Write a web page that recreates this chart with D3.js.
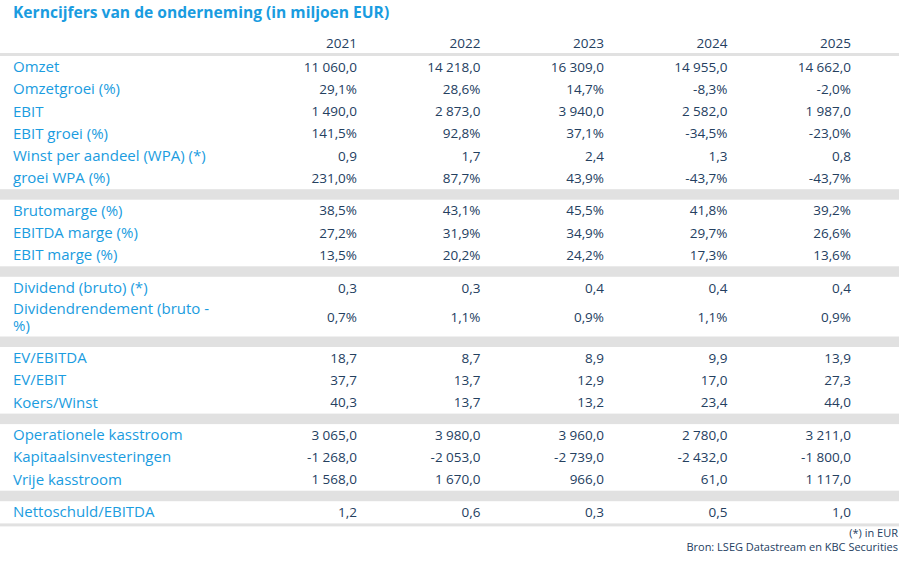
<!DOCTYPE html>
<html><head><meta charset="utf-8">
<script src="https://cdn.jsdelivr.net/npm/d3@7"></script>
<style>
html,body{margin:0;padding:0;background:#fff;}
svg{display:block;font-family:"Open Sans",sans-serif;}
</style></head><body>
<svg id="chart" width="907" height="562"></svg>
<script>
// ---- data ----
const years = ["2021","2022","2023","2024","2025"];
const labels = [
  "Omzet","Omzetgroei (%)","EBIT","EBIT groei (%)","Winst per aandeel (WPA) (*)","groei WPA (%)",
  "Brutomarge (%)","EBITDA marge (%)","EBIT marge (%)",
  "Dividend (bruto) (*)","Dividendrendement (bruto -|%)",
  "EV/EBITDA","EV/EBIT","Koers/Winst",
  "Operationele kasstroom","Kapitaalsinvesteringen","Vrije kasstroom",
  "Nettoschuld/EBITDA"
];
const groups = [0,0,0,0,0,0, 1,1,1, 2,2, 3,3,3, 4,4,4, 5];
const isPercent = [false,true,false,true,false,true, true,true,true, false,true, false,false,false, false,false,false, false];
const v2021 = [11060.0,29.1,1490.0,141.5,0.9,231.0, 38.5,27.2,13.5, 0.3,0.7, 18.7,37.7,40.3, 3065.0,-1268.0,1568.0, 1.2];
const v2022 = [14218.0,28.6,2873.0,92.8,1.7,87.7, 43.1,31.9,20.2, 0.3,1.1, 8.7,13.7,13.7, 3980.0,-2053.0,1670.0, 0.6];
const v2023 = [16309.0,14.7,3940.0,37.1,2.4,43.9, 45.5,34.9,24.2, 0.4,0.9, 8.9,12.9,13.2, 3960.0,-2739.0,966.0, 0.3];
const v2024 = [14955.0,-8.3,2582.0,-34.5,1.3,-43.7, 41.8,29.7,17.3, 0.4,1.1, 9.9,17.0,23.4, 2780.0,-2432.0,61.0, 0.5];
const v2025 = [14662.0,-2.0,1987.0,-23.0,0.8,-43.7, 39.2,26.6,13.6, 0.4,0.9, 13.9,27.3,44.0, 3211.0,-1800.0,1117.0, 1.0];
const title = "Kerncijfers van de onderneming (in miljoen EUR)";
const notes = ["(*) in EUR","Bron: LSEG Datastream en KBC Securities"];

// ---- layout ----
const values = [v2021,v2022,v2023,v2024,v2025];
const svg = d3.select("#chart");
const blue = "#1a9ce0", navy = "#24405f", band = "#e1e1e1";
const locale = d3.formatLocale({decimal:",", thousands:"\u00a0", grouping:[3], currency:["",""]});
const fmt = locale.format(",.1f");

const tableLeft = 0, tableRight = 899, labelX = 13;
const x = d3.scalePoint().domain(years).range([357, 851]);

// row geometry
const rowH = 22.2, bandH = 10.5, doubleH = 37.5;
let yCur = 56;
const rows = [];
const bands = [];
labels.forEach((lab, i) => {
  if (i > 0 && groups[i] !== groups[i-1]) { bands.push(yCur); yCur += bandH; }
  const lines = lab.split("|");
  const h = lines.length > 1 ? doubleH : rowH;
  rows.push({i, lines, y: yCur + h/2});
  yCur += h;
});
const tableBottom = yCur;
const dyT = 1; // small baseline nudge

// title
svg.append("text").attr("x", labelX).attr("y", 13.5).attr("dominant-baseline","middle")
  .attr("fill", blue).attr("font-size", 15.6).attr("font-weight", "bold").text(title);

// header
svg.append("g").selectAll("text").data(years).join("text")
  .attr("x", d => x(d)).attr("y", 43 + dyT).attr("text-anchor","end").attr("dominant-baseline","middle")
  .attr("fill", navy).attr("font-size", 13.5).text(d => d);
svg.append("rect").attr("x", tableLeft).attr("y", 53).attr("width", tableRight - tableLeft).attr("height", 3).attr("fill", band);

// bands
svg.append("g").selectAll("rect").data(bands).join("rect")
  .attr("x", tableLeft).attr("y", d => d).attr("width", tableRight - tableLeft).attr("height", bandH).attr("fill", band);
svg.append("rect").attr("x", tableLeft).attr("y", tableBottom).attr("width", tableRight - tableLeft).attr("height", 3).attr("fill", band);

// labels (multi-line labels as one text with tspans)
const lg = svg.append("g");
rows.forEach(r => {
  const n = r.lines.length;
  const t = lg.append("text").attr("fill", blue).attr("font-size", 15).attr("dominant-baseline","middle");
  r.lines.forEach((s, k) => {
    t.append("tspan").attr("x", labelX).attr("y", r.y + dyT + (k - (n-1)/2) * 17)
      .attr("dominant-baseline","middle").text(s);
  });
});

// values
const vg = svg.append("g");
years.forEach((yr, c) => {
  vg.append("g").selectAll("text").data(rows).join("text")
    .attr("x", x(yr)).attr("y", r => r.y + dyT).attr("text-anchor","end").attr("dominant-baseline","middle")
    .attr("fill", navy).attr("font-size", 13.5)
    .text(r => fmt(values[c][r.i]).replace("\u2212","-") + (isPercent[r.i] ? "%" : ""));
});

// notes
svg.append("g").selectAll("text").data(notes).join("text")
  .attr("x", 898).attr("y", (d,i) => 534.5 + i*14).attr("text-anchor","end").attr("dominant-baseline","middle")
  .attr("fill", navy).attr("font-size", 11).text(d => d);
</script>
</body></html>
